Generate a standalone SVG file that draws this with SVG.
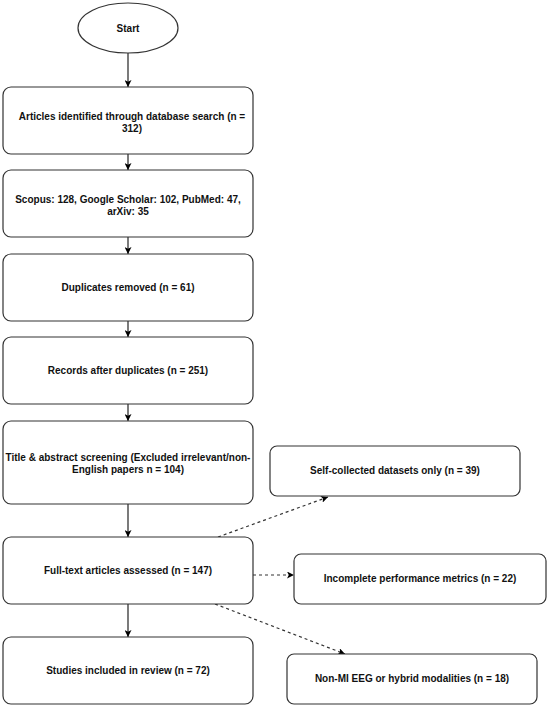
<svg xmlns="http://www.w3.org/2000/svg" width="550" height="708" viewBox="0 0 550 708">
<defs>
<marker id="ah" viewBox="0 0 10 10" refX="10" refY="5" markerWidth="7" markerHeight="7" markerUnits="userSpaceOnUse" orient="auto">
<path d="M0,0 L10,5 L0,10 L2.5,5 Z" fill="#000"/>
</marker>
<style>
.box{fill:#fff;stroke:#333;stroke-width:1.2}
.t{font-family:"Liberation Sans",Arial,sans-serif;font-weight:bold;font-size:10px;fill:#111;text-anchor:middle}
.c{stroke:#222;stroke-width:1.2;fill:none;marker-end:url(#ah)}
.d{stroke:#333;stroke-width:1.2;fill:none;stroke-dasharray:3,3;marker-end:url(#ah)}
</style>
</defs>
<rect width="550" height="708" fill="#fff"/>
<g id="connectors">
<line class="c" x1="128" y1="53" x2="128" y2="87"/>
<line class="c" x1="128" y1="154" x2="128" y2="170"/>
<line class="c" x1="128" y1="237" x2="128" y2="254"/>
<line class="c" x1="128" y1="321" x2="128" y2="337"/>
<line class="c" x1="128" y1="404" x2="128" y2="421"/>
<line class="c" x1="128" y1="504" x2="128" y2="537"/>
<line class="c" x1="128" y1="604" x2="128" y2="637"/>
<line class="d" x1="218" y1="537" x2="328" y2="497"/>
<line class="d" x1="253" y1="575" x2="294" y2="575"/>
<line class="d" x1="215" y1="604" x2="345" y2="654"/>
</g>
<g id="start">
<ellipse class="box" cx="128" cy="28" rx="50" ry="25"/>
<text class="t" x="128" y="32">Start</text>
</g>
<g id="identified">
<rect class="box" x="3" y="87" width="250" height="67" rx="8"/>
<text class="t" x="132" y="120">Articles identified through database search (n =</text>
<text class="t" x="132" y="132">312)</text>
</g>
<g id="sources">
<rect class="box" x="3" y="170" width="250" height="67" rx="8"/>
<text class="t" x="128" y="203">Scopus: 128, Google Scholar: 102, PubMed: 47,</text>
<text class="t" x="128" y="215">arXiv: 35</text>
</g>
<g id="duplicates">
<rect class="box" x="3" y="254" width="250" height="67" rx="8"/>
<text class="t" x="128" y="291">Duplicates removed (n = 61)</text>
</g>
<g id="records">
<rect class="box" x="3" y="337" width="250" height="67" rx="8"/>
<text class="t" x="128" y="374">Records after duplicates (n = 251)</text>
</g>
<g id="screening">
<rect class="box" x="3" y="421" width="250" height="83" rx="8"/>
<text class="t" x="128" y="461">Title &amp; abstract screening (Excluded irrelevant/non-</text>
<text class="t" x="128" y="473">English papers n = 104)</text>
</g>
<g id="fulltext">
<rect class="box" x="3" y="537" width="250" height="67" rx="8"/>
<text class="t" x="128" y="574">Full-text articles assessed (n = 147)</text>
</g>
<g id="included">
<rect class="box" x="3" y="637" width="250" height="67" rx="8"/>
<text class="t" x="128" y="674">Studies included in review (n = 72)</text>
</g>
<g id="selfcollected">
<rect class="box" x="270" y="446" width="250" height="50" rx="7"/>
<text class="t" x="395" y="474">Self-collected datasets only (n = 39)</text>
</g>
<g id="incomplete">
<rect class="box" x="294" y="554" width="252" height="50" rx="7"/>
<text class="t" x="420" y="582">Incomplete performance metrics (n = 22)</text>
</g>
<g id="nonmi">
<rect class="box" x="287" y="654" width="250" height="50" rx="7"/>
<text class="t" x="412" y="682">Non-MI EEG or hybrid modalities (n = 18)</text>
</g>
</svg>
